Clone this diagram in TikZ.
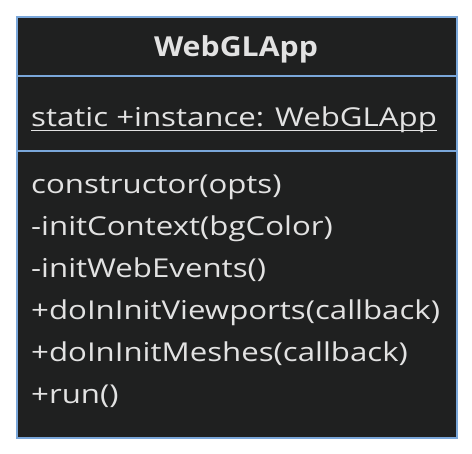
\documentclass[tikz,border=0pt]{standalone}
\usepackage{fontspec}
\setmainfont[FakeStretch=1.2]{Open Sans}
\newfontfamily\titlefont[FakeStretch=1.1]{Open Sans}
\definecolor{boxfill}{HTML}{1F2020}
\definecolor{boxline}{HTML}{7AA7DA}
\definecolor{txt}{HTML}{E2E2E2}
\begin{document}
\begin{tikzpicture}[x=1pt,y=-1pt,
  member/.style={anchor=base west,inner sep=0pt,text=txt,font=\fontsize{26}{30}\selectfont},
  title/.style={anchor=base,inner sep=0pt,text=txt,font=\titlefont\fontsize{27.5}{32}\selectfont\bfseries},
  sep/.style={draw=boxline,line width=2pt}]
\useasboundingbox (0,0) rectangle (472,454);
\node[draw=boxline,fill=boxfill,line width=2pt,minimum width=440pt,minimum height=421pt,inner sep=0pt,anchor=north west] (box) at (16,16) {};
\coordinate (s1l) at (16,76); \coordinate (s1r) at (456,76);
\coordinate (s2l) at (16,151.5); \coordinate (s2r) at (456,151.5);
\draw[sep] (s1l) -- (s1r);
\draw[sep] (s2l) -- (s2r);
\node[title] (name) at (236,57) {WebGLApp};
\node[member] (attr) at (31,127) {static +instance: WebGLApp};
\draw[txt,line width=1.5pt] ([yshift=-3.5pt]attr.base west) -- ([yshift=-3.5pt]attr.base east);
\node[member] (m1) at (31,194) {constructor(opts)};
\node[member] (m2) at (31,236) {-initContext(bgColor)};
\node[member] (m3) at (31,278) {-initWebEvents()};
\node[member] (m4) at (31,320) {+doInInitViewports(callback)};
\node[member] (m5) at (31,362) {+doInInitMeshes(callback)};
\node[member] (m6) at (31,404) {+run()};
\end{tikzpicture}
\end{document}
